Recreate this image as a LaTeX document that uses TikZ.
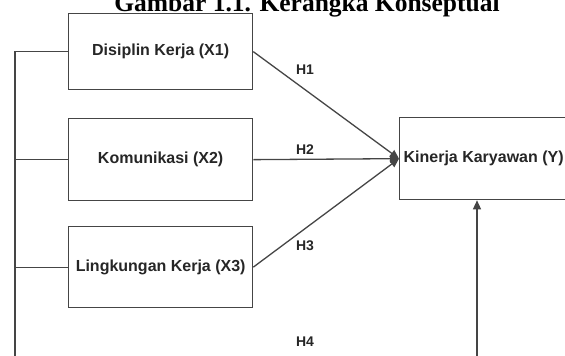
\documentclass[tikz,border=0pt]{standalone}
\usepackage{fontspec}
\setmainfont{Liberation Sans}
\newfontfamily\titlefont{Liberation Serif}
\usetikzlibrary{arrows.meta}
\definecolor{linegray}{HTML}{454545}
\begin{document}
\begin{tikzpicture}[x=1pt,y=-1pt,
  varbox/.style={draw=linegray, line width=1.3pt, minimum width=184pt, minimum height=78pt,
    inner sep=0pt, font=\fontsize{16}{19}\selectfont\bfseries, anchor=north west, text=black!85},
  link/.style={draw=linegray, line width=1.3pt},
  arr/.style={link, -{Triangle[length=9pt,width=8pt]}},
  hlabel/.style={font=\fontsize{14}{16}\selectfont\bfseries, inner sep=0pt, text=black!85}]
\useasboundingbox (0,0) rectangle (565,356);
\clip (0,0) rectangle (565,356);
\node[font=\titlefont\fontsize{25.5}{28}\selectfont\bfseries, anchor=base, inner sep=0pt] (title) at (307,11) {Gambar 1.1. Kerangka Konseptual};
\node[varbox, minimum height=76pt] (x1) at (68,13) {Disiplin Kerja (X1)};
\node[varbox, minimum height=82pt] (x2) at (68,118) {Komunikasi (X2)};
\node[varbox, minimum height=81pt] (x3) at (68,226) {Lingkungan Kerja (X3)};
\node[varbox, minimum width=168pt, minimum height=82pt] (y) at (399,117) {Kinerja Karyawan (Y)};
\coordinate (lb) at (15,362);
\coordinate (rb) at (477,362);
\draw[link] (lb) |- (x1.west);
\draw[link] (lb |- x2.west) -- (x2.west);
\draw[link] (lb |- x3.west) -- (x3.west);
\draw[arr] (rb) -- (rb |- y.south);
\draw[arr] (x1.east) -- (y.west);
\draw[arr] (x2.east) -- (y.west);
\draw[arr] (x3.east) -- (y.west);
\node[hlabel] (h1) at (305,70) {H1};
\node[hlabel] (h2) at (305,150) {H2};
\node[hlabel] (h3) at (305,246) {H3};
\node[hlabel] (h4) at (305,342) {H4};
\end{tikzpicture}
\end{document}
